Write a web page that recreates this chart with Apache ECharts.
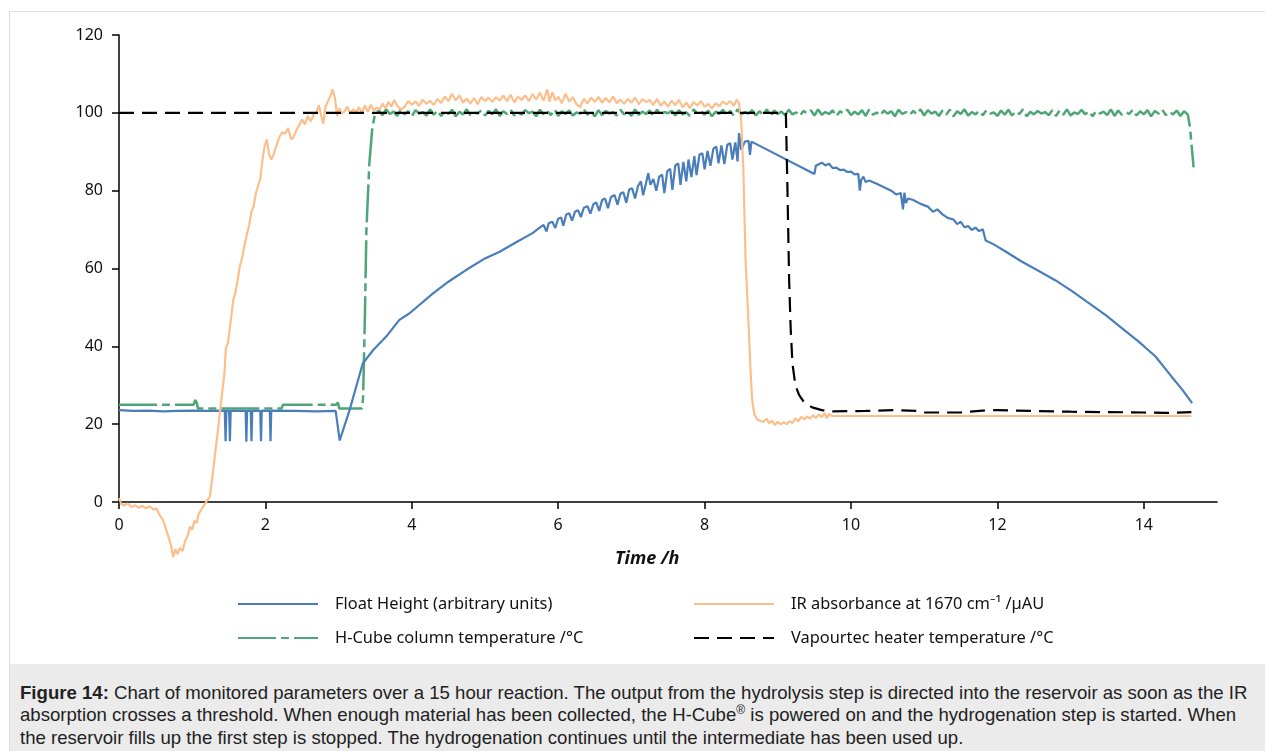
<!DOCTYPE html>
<html><head><meta charset="utf-8">
<script src="https://cdn.jsdelivr.net/npm/echarts@6/dist/echarts.min.js"></script>
<style>
html,body{margin:0;padding:0;background:#fff;width:1265px;height:751px;overflow:hidden}
#frame{position:absolute;left:9px;top:11px;width:1270px;height:760px;border:1px solid #dedede;box-sizing:border-box}
#chart{position:absolute;left:0;top:0;width:1265px;height:751px}
#caption{position:absolute;left:10px;top:664px;width:1260px;height:90px;background:#ebebeb;font-family:'Liberation Sans',Arial,sans-serif;font-size:18.6px;line-height:22.6px;color:#222;padding:17.5px 0 0 10px;box-sizing:border-box;white-space:nowrap}
#caption sup{font-size:12px;line-height:0}
</style></head>
<body>
<div id="frame"></div>
<div id="chart"></div>
<div id="caption"><b>Figure 14:</b> Chart of monitored parameters over a 15 hour reaction. The output from the hydrolysis step is directed into the reservoir as soon as the IR<br>absorption crosses a threshold. When enough material has been collected, the H-Cube<sup>®</sup> is powered on and the hydrogenation step is started. When<br>the reservoir fills up the first step is stopped. The hydrogenation continues until the intermediate has been used up.</div>
<script>
// ---- data (time in hours, value) ----
const xTicks = [0, 2, 4, 6, 8, 10, 12, 14];
const seriesNames = [
  'Float Height (arbitrary units)',
  'IR absorbance at 1670 cm\u207B\u00B9 /\u00B5AU',
  'H-Cube column temperature /\u00B0C',
  'Vapourtec heater temperature /\u00B0C'
];
const floatHeight = [
  [0,23.6],[0.2,23.4],[0.4,23.5],[0.6,23.3],[0.8,23.4],[1.0,23.5],[1.2,23.4],
  [1.445,23.5],[1.456,15.6],[1.467,23.5],[1.504,23.4],[1.515,15.6],[1.526,23.5],
  [1.73,23.4],[1.74,15.5],[1.75,23.5],[1.8,23.4],[1.81,15.6],[1.82,23.5],
  [1.93,23.4],[1.94,15.6],[1.95,23.5],[2.06,23.4],[2.07,15.6],[2.08,23.5],
  [2.4,23.4],[2.7,23.3],[2.96,23.4],[3.015,15.8],[3.15,23.6],[3.24,29.6],[3.33,35.6],
  [3.47,39.0],[3.65,42.5],[3.83,46.8],[3.97,48.5],[4.29,53.6],[4.5,56.6],[4.74,59.6],
  [5.0,62.6],[5.2,64.3],[5.45,67.0],[5.65,69.1],[5.72,70.1],
  [5.80,71.2],[5.84,69.5],[5.87,71.6],[5.92,72.0],[5.96,70.4],[6.00,72.8],[6.04,73.1],
  [6.07,71.0],[6.11,73.9],[6.15,74.2],[6.19,72.3],[6.23,74.6],[6.27,75.0],[6.31,73.2],
  [6.35,75.6],[6.40,76.0],[6.44,74.1],[6.48,76.5],[6.52,77.0],[6.56,74.8],[6.60,77.6],
  [6.64,78.0],[6.68,75.5],[6.72,78.3],[6.77,78.9],[6.81,76.4],[6.85,79.2],[6.89,79.6],
  [6.93,76.9],[6.97,80.3],[7.01,80.6],[7.05,78.0],[7.09,81.2],[7.13,82.4],[7.16,78.8],
  [7.20,82.0],[7.23,84.5],[7.26,81.5],[7.30,83.0],[7.34,80.0],[7.38,83.6],[7.42,84.1],
  [7.45,79.4],[7.49,85.0],[7.53,85.6],[7.56,80.2],[7.60,86.5],[7.64,87.0],[7.67,81.5],
  [7.71,87.4],[7.75,82.4],[7.78,88.0],[7.82,83.5],[7.86,88.9],[7.89,84.0],[7.93,89.3],
  [7.97,89.6],[8.00,85.5],[8.04,90.2],[8.08,86.4],[8.12,90.8],[8.16,91.3],[8.19,87.0],
  [8.23,91.6],[8.27,86.8],[8.31,91.8],[8.35,92.2],[8.38,88.0],[8.42,92.4],[8.45,87.5],
  [8.47,94.8],[8.50,90.5],[8.55,92.6],[8.60,92.8],[8.62,89.2],[8.64,92.6],[8.66,93.0],
  [9.5,84.3],[9.52,86.4],[9.56,86.8],[9.6,87.2],[9.65,86.5],[9.7,86.9],[9.75,85.8],
  [9.8,85.9],[9.85,85.3],[9.9,85.4],[9.95,84.8],[10.0,84.9],[10.05,84.2],[10.1,84.3],
  [10.12,80.0],[10.14,82.8],[10.17,83.6],[10.2,82.2],[10.25,82.6],[10.35,81.8],
  [10.45,80.9],[10.55,80.0],[10.62,79.0],[10.68,79.4],[10.71,75.2],[10.73,79.5],
  [10.75,76.8],[10.78,78.0],[10.85,77.6],[10.95,76.6],[11.05,75.9],[11.12,74.6],
  [11.18,75.2],[11.25,73.9],[11.32,73.0],[11.40,72.6],[11.45,71.4],[11.5,72.0],
  [11.55,70.6],[11.6,70.9],[11.65,69.9],[11.7,70.5],[11.75,69.6],[11.8,70.1],[11.84,67.2],
  [11.95,66.2],[12.1,64.5],[12.33,61.8],[12.56,59.4],[12.79,57.0],[13.02,54.2],
  [13.25,51.1],[13.48,48.0],[13.7,44.7],[13.93,41.2],[14.16,37.4],[14.38,32.2],
  [14.52,29.0],[14.66,25.4]
];
const irAbsorbance = [
  [0.00,1.0],[0.03,-0.5],[0.07,-0.9],[0.12,-0.4],[0.17,-1.3],[0.22,-0.8],[0.27,-1.5],
  [0.32,-1.0],[0.37,-1.6],[0.42,-1.1],[0.47,-2.0],[0.51,-1.6],[0.55,-3.2],[0.60,-4.6],
  [0.64,-6.8],[0.68,-9.2],[0.71,-11.0],[0.74,-14.2],[0.77,-12.1],[0.80,-13.4],[0.83,-11.8],
  [0.87,-12.6],[0.90,-10.2],[0.94,-8.6],[0.97,-6.3],[1.00,-7.2],[1.03,-4.8],[1.06,-5.4],
  [1.09,-3.0],[1.13,-1.8],[1.17,-0.6],[1.20,0.3],[1.24,1.4],[1.28,7.0],[1.32,13.5],
  [1.36,19.8],[1.40,26.5],[1.44,33.0],[1.46,39.5],[1.49,41.0],[1.52,45.5],[1.56,51.8],
  [1.59,53.8],[1.62,57.0],[1.65,60.5],[1.69,63.4],[1.72,66.5],[1.75,69.0],[1.78,71.3],
  [1.81,74.6],[1.84,76.0],[1.87,79.4],[1.90,81.2],[1.93,82.9],[1.96,88.0],[1.99,91.5],
  [2.02,93.2],[2.05,89.4],[2.08,88.0],[2.11,89.2],[2.15,91.5],[2.19,93.8],[2.23,95.0],
  [2.27,94.6],[2.31,96.1],[2.35,93.2],[2.38,93.6],[2.42,95.4],[2.46,96.8],[2.50,98.3],
  [2.54,97.0],[2.58,99.2],[2.62,97.8],[2.66,99.6],[2.70,100.2],[2.73,102.0],[2.76,99.4],
  [2.79,97.2],[2.82,101.5],[2.86,103.2],[2.89,104.4],[2.92,106.0],[2.95,103.8],[2.98,99.2],
  [3.01,101.2],[3.04,99.8],[3.08,100.4],[3.12,101.6],[3.16,99.9],[3.20,100.9],[3.24,100.2],
  [3.28,101.4],[3.32,100.0],[3.36,101.9],[3.40,100.3],[3.44,102.1],[3.48,100.6],[3.52,101.4],
  [3.56,100.8],[3.60,102.4],[3.64,101.1],[3.68,102.8],[3.72,101.6],[3.76,103.3],[3.80,101.9],
  [3.85,100.8],[3.90,101.5],[3.95,103.0],[4.00,102.1],[4.05,102.9],[4.10,101.8],[4.15,103.4],
  [4.20,102.3],[4.25,103.1],[4.30,102.0],[4.35,103.6],[4.40,102.5],[4.45,104.2],[4.50,103.0],
  [4.55,104.9],[4.60,103.2],[4.65,104.5],[4.70,102.6],[4.75,103.7],[4.80,102.4],[4.85,103.8],
  [4.90,102.2],[4.95,104.1],[5.00,103.0],[5.05,103.9],[5.10,102.8],[5.15,104.0],[5.20,103.1],
  [5.25,104.4],[5.30,103.0],[5.35,104.6],[5.40,102.7],[5.45,104.2],[5.50,103.3],[5.55,104.5],
  [5.60,103.0],[5.65,104.8],[5.70,103.4],[5.75,105.2],[5.80,103.1],[5.85,106.0],[5.88,102.9],
  [5.92,105.3],[5.96,103.2],[6.00,104.1],[6.05,102.5],[6.10,104.9],[6.15,102.9],[6.20,104.0],
  [6.25,102.2],[6.30,101.5],[6.35,103.6],[6.40,102.4],[6.45,103.9],[6.50,102.8],[6.55,104.1],
  [6.60,102.6],[6.65,103.8],[6.70,102.7],[6.75,104.2],[6.80,102.5],[6.85,103.4],[6.90,102.3],
  [6.95,103.6],[7.00,102.6],[7.05,103.9],[7.10,102.2],[7.15,103.5],[7.20,102.8],[7.25,103.3],
  [7.30,102.0],[7.35,103.6],[7.40,101.8],[7.45,102.9],[7.50,101.6],[7.55,103.1],[7.60,102.0],
  [7.65,103.3],[7.70,101.4],[7.75,102.6],[7.80,101.2],[7.85,102.8],[7.90,101.9],[7.95,103.0],
  [8.00,101.6],[8.05,102.3],[8.10,101.1],[8.15,102.5],[8.20,101.7],[8.25,102.9],[8.30,102.2],
  [8.35,103.0],[8.40,101.8],[8.44,103.4],[8.47,102.4],[8.50,98.0],[8.53,85.0],[8.56,62.0],
  [8.59,50.0],[8.61,41.6],[8.63,33.0],[8.65,26.2],[8.68,22.5],[8.72,21.2],[8.76,20.8],
  [8.80,20.6],[8.85,21.4],[8.88,20.2],[8.92,20.9],[8.96,19.8],[9.00,20.6],[9.04,19.9],
  [9.08,20.5],[9.12,20.0],[9.16,20.8],[9.20,20.3],[9.24,21.5],[9.28,20.7],[9.32,21.9],
  [9.36,21.2],[9.40,22.0],[9.44,21.4],[9.48,22.3],[9.52,21.6],[9.56,22.5],[9.60,21.8],
  [9.64,22.8],[9.67,21.5],[9.70,22.6],[9.74,22.1],[11.0,22.1],[12.5,22.1],[14.65,22.1]
];
const hCubeTemp = [
  [0,25],[1.02,25],[1.04,26.2],[1.06,25.6],[1.08,24.0],[2.22,24.0],[2.24,25.0],[2.97,25.0],
  [2.99,25.6],[3.01,24.0],[3.32,24.0],[3.335,27],[3.36,48.5],[3.38,70],[3.42,87],[3.46,96],[3.5,100],
  [3.55,100.6],[3.60,99.4],[3.65,100.9],[3.70,99.7],[3.75,100.3],[3.80,99.2],[3.85,100.8],[3.90,99.6],[3.95,100.4],[4.00,99.1],
  [4.05,100.7],[4.10,99.8],[4.15,100.2],[4.20,99.3],[4.25,100.9],[4.30,99.5],[4.35,100.6],[4.40,99.2],[4.45,100.4],[4.50,99.7],
  [4.55,100.8],[4.60,99.1],[4.65,100.3],[4.70,99.6],[4.75,100.9],[4.80,99.4],[4.85,100.1],[4.90,99.8],[4.95,100.7],[5.00,99.3],
  [5.05,100.5],[5.10,99.6],[5.15,100.9],[5.20,99.2],[5.25,100.4],[5.30,99.7],[5.35,100.8],[5.40,99.3],[5.45,100.2],[5.50,99.5],
  [5.55,100.7],[5.60,99.9],[5.65,100.3],[5.70,99.1],[5.75,100.8],[5.80,99.6],[5.85,100.5],[5.90,99.4],[5.95,100.9],[6.00,99.2],
  [6.05,100.4],[6.10,99.7],[6.15,100.6],[6.20,99.3],[6.25,100.1],[6.30,99.8],[6.35,100.9],[6.40,99.5],[6.45,100.3],[6.50,99.1],
  [6.55,100.7],[6.60,99.4],[6.65,100.5],[6.70,99.8],[6.75,100.2],[6.80,99.3],[6.85,100.8],[6.90,99.6],[6.95,100.4],[7.00,99.2],
  [7.05,100.9],[7.10,99.5],[7.15,100.3],[7.20,99.7],[7.25,100.6],[7.30,99.1],[7.35,100.8],[7.40,99.4],[7.45,100.2],[7.50,99.9],
  [7.55,100.5],[7.60,99.3],[7.65,100.7],[7.70,99.6],[7.75,100.1],[7.80,99.2],[7.85,100.9],[7.90,99.8],[7.95,100.4],[8.00,99.5],
  [8.05,100.6],[8.10,99.1],[8.15,100.3],[8.20,99.7],[8.25,100.8],[8.30,99.4],[8.35,100.5],[8.40,99.2],[8.45,100.9],[8.50,99.6],
  [8.55,100.2],[8.60,99.8],[8.65,100.7],[8.70,99.3],[8.75,100.4],[8.80,99.5],[8.85,100.9],[8.90,99.1],[8.95,100.6],[9.00,99.7],
  [9.05,100.3],[9.10,99.4],[9.15,100.8],[9.20,99.6],[9.25,100.1],[9.30,99.2],[9.35,100.5],[9.40,99.9],[9.45,100.7],[9.50,99.3],
  [9.55,100.9],[9.60,99.5],[9.65,100.2],[9.70,99.7],[9.75,100.6],[9.80,99.1],[9.85,100.4],[9.90,99.8],[9.95,100.8],[10.00,99.4],
  [10.05,100.3],[10.10,99.6],[10.15,100.7],[10.20,99.2],[10.25,100.9],[10.30,99.5],[10.35,100.1],[10.40,99.3],[10.45,100.6],[10.50,99.8],
  [10.55,100.4],[10.60,99.1],[10.65,100.8],[10.70,99.7],[10.75,100.2],[10.80,99.4],[10.85,100.5],[10.90,99.6],[10.95,100.9],[11.00,99.3],
  [11.05,100.7],[11.10,99.8],[11.15,100.3],[11.20,99.2],[11.25,100.6],[11.30,99.5],[11.35,100.8],[11.40,99.1],[11.45,100.4],[11.50,99.7],
  [11.55,100.9],[11.60,99.3],[11.65,100.2],[11.70,99.6],[11.75,100.5],[11.80,99.4],[11.85,100.7],[11.90,99.8],[11.95,100.1],[12.00,99.2],
  [12.05,100.6],[12.10,99.5],[12.15,100.8],[12.20,99.3],[12.25,100.4],[12.30,99.7],[12.35,100.9],[12.40,99.1],[12.45,100.3],[12.50,99.6],
  [12.55,100.5],[12.60,99.8],[12.65,100.2],[12.70,99.4],[12.75,100.7],[12.80,99.2],[12.85,100.6],[12.90,99.5],[12.95,100.9],[13.00,99.3],
  [13.05,100.1],[13.10,99.7],[13.15,100.8],[13.20,99.6],[13.25,100.4],[13.30,99.1],[13.35,100.5],[13.40,99.8],[13.45,100.3],[13.50,99.4],
  [13.55,100.9],[13.60,99.2],[13.65,100.6],[13.70,99.5],[13.75,100.2],[13.80,99.7],[13.85,100.8],[13.90,99.3],[13.95,100.4],[14.00,99.6],
  [14.05,100.7],[14.10,99.1],[14.15,100.5],[14.20,99.8],[14.25,100.9],[14.30,99.4],[14.35,100.3],[14.40,99.6],[14.45,100.6],[14.50,99.2],
  [14.55,100.4],[14.6,99.6],[14.63,96.5],[14.68,86.0]
];
const vapourtecTemp = [
  [0,100],[9.11,100],[9.13,82],[9.155,57],[9.175,45],[9.2,35.6],[9.24,30],[9.29,27.5],
  [9.36,25.6],[9.47,24.3],[9.6,23.6],[9.75,23.3],[10.2,23.4],[10.6,23.6],[10.9,23.4],
  [11.0,23.0],[11.5,23.0],[11.8,23.5],[12.0,23.6],[12.5,23.4],[13.0,23.2],[13.5,23.1],
  [14.0,23.0],[14.3,22.9],[14.65,23.1]
];

// ---- chart ----
const FONT = 'Noto Sans';
const colors = ['#4a7ebb', '#fcbf8c', '#4ea676', '#000000'];
const chart = echarts.init(document.getElementById('chart'), null, {renderer: 'canvas'});

function legendAt(name, left, top) {
  return {
    data: [name], left: left, top: top, padding: 0,
    itemWidth: 80, itemHeight: 14, selectedMode: false,
    itemStyle: {opacity: 0, borderWidth: 0},
    textStyle: {fontFamily: FONT, fontSize: 16.4, color: '#111', padding: [0, 0, 0, 12]}
  };
}

function lineSeries(name, data, color, type, z, width) {
  return {
    name: name, type: 'line', data: data, symbol: 'none', showSymbol: false,
    animation: false, z: z, clip: false,
    lineStyle: {color: color, width: width, type: type},
    itemStyle: {color: color}
  };
}

chart.setOption({
  animation: false,
  grid: {left: 119, right: 48, top: 35, bottom: 249, containLabel: false, outerBoundsMode: 'none'},
  legend: [
    legendAt(seriesNames[0], 237, 596),
    legendAt(seriesNames[1], 693, 596),
    legendAt(seriesNames[2], 237, 630),
    legendAt(seriesNames[3], 693, 630)
  ],
  xAxis: {
    type: 'value', min: 0, max: 15, interval: 2,
    axisLine: {show: true, lineStyle: {color: '#000', width: 1.5}},
    axisTick: {show: true, length: 7, customValues: xTicks, lineStyle: {color: '#000', width: 1.5}},
    axisLabel: {customValues: xTicks, fontFamily: FONT, fontSize: 16, color: '#111', margin: 15},
    splitLine: {show: false}
  },
  yAxis: {
    type: 'value', min: 0, max: 120, interval: 20,
    axisLine: {show: true, lineStyle: {color: '#000', width: 1.5}},
    axisTick: {show: true, length: 7, lineStyle: {color: '#000', width: 1.5}},
    axisLabel: {fontFamily: FONT, fontSize: 16, color: '#111', margin: 16},
    splitLine: {show: false}
  },
  graphic: [{
    type: 'text', left: 615, top: 550,
    style: {text: 'Time /h', fontFamily: FONT, fontSize: 18, fontWeight: 'bold', fontStyle: 'italic', fill: '#111'}
  }],
  series: [
    lineSeries(seriesNames[2], hCubeTemp, colors[2], [38, 5, 8, 5], 2, 2.5),
    lineSeries(seriesNames[0], floatHeight, colors[0], 'solid', 3, 2.2),
    lineSeries(seriesNames[1], irAbsorbance, colors[1], 'solid', 4, 2.2),
    lineSeries(seriesNames[3], vapourtecTemp, colors[3], [15, 8], 5, 2.2)
  ]
});
</script>
</body></html>
